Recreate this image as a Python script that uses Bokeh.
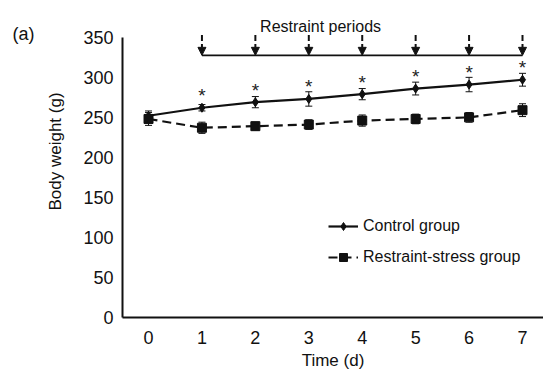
import math
from bokeh.plotting import figure
from bokeh.models import (Range1d, FixedTicker, ColumnDataSource, Whisker, TeeHead,
                          Arrow, NormalHead, Label, Legend, LegendItem)
from bokeh.core.properties import value
from bokeh.embed import file_html
from bokeh.resources import INLINE

# ---- data ----
days = [0, 1, 2, 3, 4, 5, 6, 7]
control = [252, 262, 269, 273, 279, 286, 291, 297]
control_err = [6, 4, 7, 9, 7, 8, 9, 8]
stress = [248, 237, 239, 241, 246, 248, 250, 259]
stress_err = [8, 7, 5, 6, 7, 6, 6, 8]
sig_days = [1, 2, 3, 4, 5, 6, 7]
restraint_days = [1, 2, 3, 4, 5, 6, 7]
restraint_top = 353
restraint_level = 327.5
y_ticks = [0, 50, 100, 150, 200, 250, 300, 350]

FONT = "Liberation Sans"

p = figure(width=543, height=372, output_backend="svg", toolbar_location=None,
           x_range=Range1d(-0.487, 7.393), y_range=Range1d(0, 386),
           min_border_left=122, min_border_right=0, min_border_top=8, min_border_bottom=55)
p.outline_line_color = None
p.grid.grid_line_color = None
p.background_fill_color = "white"

for ax in (p.xaxis[0], p.yaxis[0]):
    ax.axis_line_width = 2
    ax.axis_line_color = "#111111"
    ax.major_tick_line_color = None
    ax.minor_tick_line_color = None
    ax.major_tick_out = 0
    ax.major_tick_in = 0
    ax.major_label_text_font = FONT
    ax.major_label_text_font_size = "18px"
    ax.major_label_text_color = "#111111"
    ax.axis_label_text_font = FONT
    ax.axis_label_text_font_size = "17px"
    ax.axis_label_text_font_style = "normal"
    ax.axis_label_text_color = "#111111"

p.xaxis.ticker = FixedTicker(ticks=days)
p.xaxis.major_label_standoff = 13
p.xaxis.axis_label = "Time (d)"
p.xaxis.axis_label_standoff = 4

p.yaxis.ticker = FixedTicker(ticks=y_ticks)
p.yaxis.bounds = (0, 350)
p.yaxis.major_label_standoff = 9

src = ColumnDataSource(dict(
    x=days, c=control, s=stress,
    c_lo=[v - e for v, e in zip(control, control_err)],
    c_hi=[v + e for v, e in zip(control, control_err)],
    s_lo=[v - e for v, e in zip(stress, stress_err)],
    s_hi=[v + e for v, e in zip(stress, stress_err)],
))

# error bars
for lo, hi in (("c_lo", "c_hi"), ("s_lo", "s_hi")):
    w = Whisker(base="x", lower=lo, upper=hi, source=src, line_color="#111111", line_width=1,
                upper_head=TeeHead(size=7, line_color="#111111", line_width=1),
                lower_head=TeeHead(size=7, line_color="#111111", line_width=1))
    p.add_layout(w)

c_line = p.line("x", "c", source=src, line_color="#111111", line_width=2.2)
c_pts = p.scatter("x", "c", source=src, marker="diamond", size=9,
                  fill_color="#111111", line_color="#111111")
s_line = p.line("x", "s", source=src, line_color="#111111", line_width=2.2, line_dash="9 5")
s_pts = p.scatter("x", "s", source=src, marker="square", size=9,
                  fill_color="#111111", line_color="#111111")

# significance asterisks
sig_y = [control[days.index(d)] + 15 for d in sig_days]
p.text(x=sig_days, y=sig_y, text=["*"] * len(sig_days), text_align="center",
       text_baseline="alphabetic", text_font=value(FONT), text_font_size="19px",
       text_color="#222222")

# restraint periods
asrc = ColumnDataSource(dict(x=restraint_days, y0=[restraint_top] * len(restraint_days),
                             y1=[restraint_level] * len(restraint_days)))
p.add_layout(Arrow(x_start="x", y_start="y0", x_end="x", y_end="y1", source=asrc,
                   line_color="#111111", line_width=2, line_dash="6 3",
                   end=NormalHead(size=8, fill_color="#111111", line_color="#111111", line_width=1)))
p.line(x=[restraint_days[0], restraint_days[-1]], y=[restraint_level, restraint_level],
       line_color="#111111", line_width=1.6)
p.text(x=[3.22], y=[364], text=["Restraint periods"], text_align="center",
       text_baseline="alphabetic", text_font=value(FONT), text_font_size="16px",
       text_color="#111111")

p.add_layout(Label(x=-46, y=284, x_units="screen", y_units="screen", text="(a)",
                   text_font=FONT, text_font_size="18px", text_color="#111111",
                   text_baseline="alphabetic"), "left")
p.add_layout(Label(x=16, y=166, x_units="screen", y_units="screen", text="Body weight (g)",
                   angle=math.pi / 2, text_align="center", text_baseline="middle",
                   text_font=FONT, text_font_size="17px", text_color="#111111"), "left")

legend = Legend(items=[LegendItem(label="Control group", renderers=[c_line, c_pts]),
                       LegendItem(label="Restraint-stress group", renderers=[s_line, s_pts])],
                location=(206, 50), glyph_width=30, glyph_height=20, label_height=20,
                label_standoff=5, spacing=11, padding=0, margin=0,
                border_line_color=None, background_fill_alpha=0,
                label_text_font=FONT, label_text_font_size="16px", label_text_color="#111111")
p.add_layout(legend, "center")

open("out.html", "w").write(file_html(p, INLINE))
